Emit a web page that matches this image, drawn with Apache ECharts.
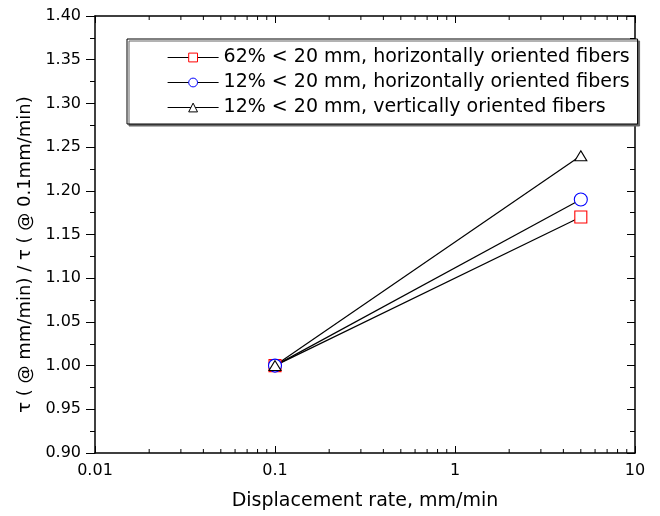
<!DOCTYPE html>
<html><head><meta charset="utf-8">
<script src="https://cdn.jsdelivr.net/npm/echarts@6/dist/echarts.min.js"></script>
<style>html,body{margin:0;padding:0;background:#fff}#c{width:660px;height:516px}</style>
</head><body><div id="c"></div>
<script>
const xValues = [0.1, 5];
const series62H = [1.00, 1.17];
const series12H = [1.00, 1.19];
const series12V = [1.00, 1.24];
const seriesNames = [
  '62% < 20 mm, horizontally oriented fibers',
  '12% < 20 mm, horizontally oriented fibers',
  '12% < 20 mm, vertically oriented fibers'
];
const xTickLabels = ['0.01', '0.1', '1', '10'];
const xMinorTicks = [0.02,0.03,0.04,0.05,0.06,0.07,0.08,0.09,0.2,0.3,0.4,0.5,0.6,0.7,0.8,0.9,2,3,4,5,6,7,8,9];
const yMin = 0.90, yMax = 1.40, yStep = 0.05;
const xTitle = 'Displacement rate, mm/min';
const yTitle = 'τ ( @ mm/min) / τ ( @ 0.1mm/min)';

const FONT = 'DejaVu Sans';
const pairs = arr => xValues.map((x, i) => [x, arr[i]]);

const chart = echarts.init(document.getElementById('c'), null, {renderer: 'canvas'});
const axisLine = {show: true, lineStyle: {color: '#000', width: 1.5}};

function mkSeries(name, data, symbol, size, color) {
  return {
    name, type: 'line', data: pairs(data),
    symbol, symbolSize: size, showSymbol: true,
    lineStyle: {color: '#000', width: 1.2},
    itemStyle: {color: '#fff', borderColor: color, borderWidth: 1.1},
    z: 3, animation: false
  };
}

chart.setOption({
  animation: false,
  backgroundColor: '#fff',
  grid: {left: 95, right: 25, top: 16, bottom: 61, containLabel: false},
  legend: {
    orient: 'vertical', left: 127, top: 39,
    padding: [7, 8, 5, 40],
    itemWidth: 51, itemHeight: 11, itemGap: 2, itemTextGap: 7,
    data: seriesNames,
    itemStyle: {borderWidth: 1},
    lineStyle: {width: 1.2},
    backgroundColor: '#fff', borderColor: '#000', borderWidth: 1, borderRadius: 0,
    shadowColor: '#666', shadowOffsetX: 2, shadowOffsetY: 2, shadowBlur: 0,
    textStyle: {fontFamily: FONT, fontSize: 19, color: '#000', lineHeight: 23},
    selectedMode: false
  },
  xAxis: [{
    type: 'log', logBase: 10, min: 0.01, max: 10,
    name: xTitle, nameLocation: 'middle', nameGap: 39,
    nameTextStyle: {fontFamily: FONT, fontSize: 19, color: '#000'},
    axisLine, splitLine: {show: false},
    axisTick: {show: true, inside: true, length: 7, lineStyle: {color: '#000', width: 1}},
    axisLabel: {fontFamily: FONT, fontSize: 16, color: '#000', margin: 10,
      formatter: v => xTickLabels.find(s => Math.abs(parseFloat(s) - v) / v < 1e-6) || ''}
  }, {
    type: 'log', logBase: 10, min: 0.01, max: 10, position: 'top',
    axisLine, splitLine: {show: false},
    axisTick: {show: true, inside: true, length: 7, lineStyle: {color: '#000', width: 1}},
    axisLabel: {show: false}
  }],
  yAxis: [{
    type: 'value', min: yMin, max: yMax, interval: yStep,
    name: yTitle, nameLocation: 'middle', nameGap: 61, nameRotate: 90,
    nameTextStyle: {fontFamily: FONT, fontSize: 18, color: '#000', padding: [0, 40, 0, 0]},
    axisLine, splitLine: {show: false},
    axisTick: {show: true, inside: false, length: 9, lineStyle: {color: '#000', width: 1}},
    minorTick: {show: true, splitNumber: 2, length: 5, lineStyle: {color: '#000', width: 1}},
    axisLabel: {fontFamily: FONT, fontSize: 16, color: '#000', margin: 14, formatter: v => v.toFixed(2)}
  }, {
    type: 'value', min: yMin, max: yMax, interval: yStep, position: 'right',
    axisLine, splitLine: {show: false},
    axisTick: {show: true, inside: true, length: 8, lineStyle: {color: '#000', width: 1}},
    minorTick: {show: true, splitNumber: 2, length: 5, lineStyle: {color: '#000', width: 1}},
    axisLabel: {show: false}
  }],
  series: [
    mkSeries(seriesNames[0], series62H, 'rect', 12, '#ff0000'),
    mkSeries(seriesNames[1], series12H, 'circle', 13, '#0000ff'),
    mkSeries(seriesNames[2], series12V, 'triangle', [12, 10], '#000000'),
    {
      type: 'custom', silent: true, clip: false, xAxisIndex: 0, yAxisIndex: 0,
      data: xMinorTicks.map(v => [v, yMin]),
      encode: {x: 0, y: 1},
      renderItem: (params, api) => {
        const v = api.value(0);
        const b = api.coord([v, yMin]);
        const t = api.coord([v, yMax]);
        const st = {stroke: '#000', lineWidth: 1};
        return {type: 'group', children: [
          {type: 'line', shape: {x1: b[0], y1: b[1], x2: b[0], y2: b[1] - 4}, style: st},
          {type: 'line', shape: {x1: t[0], y1: t[1], x2: t[0], y2: t[1] + 4}, style: st}
        ]};
      }
    }
  ]
});
</script></body></html>
